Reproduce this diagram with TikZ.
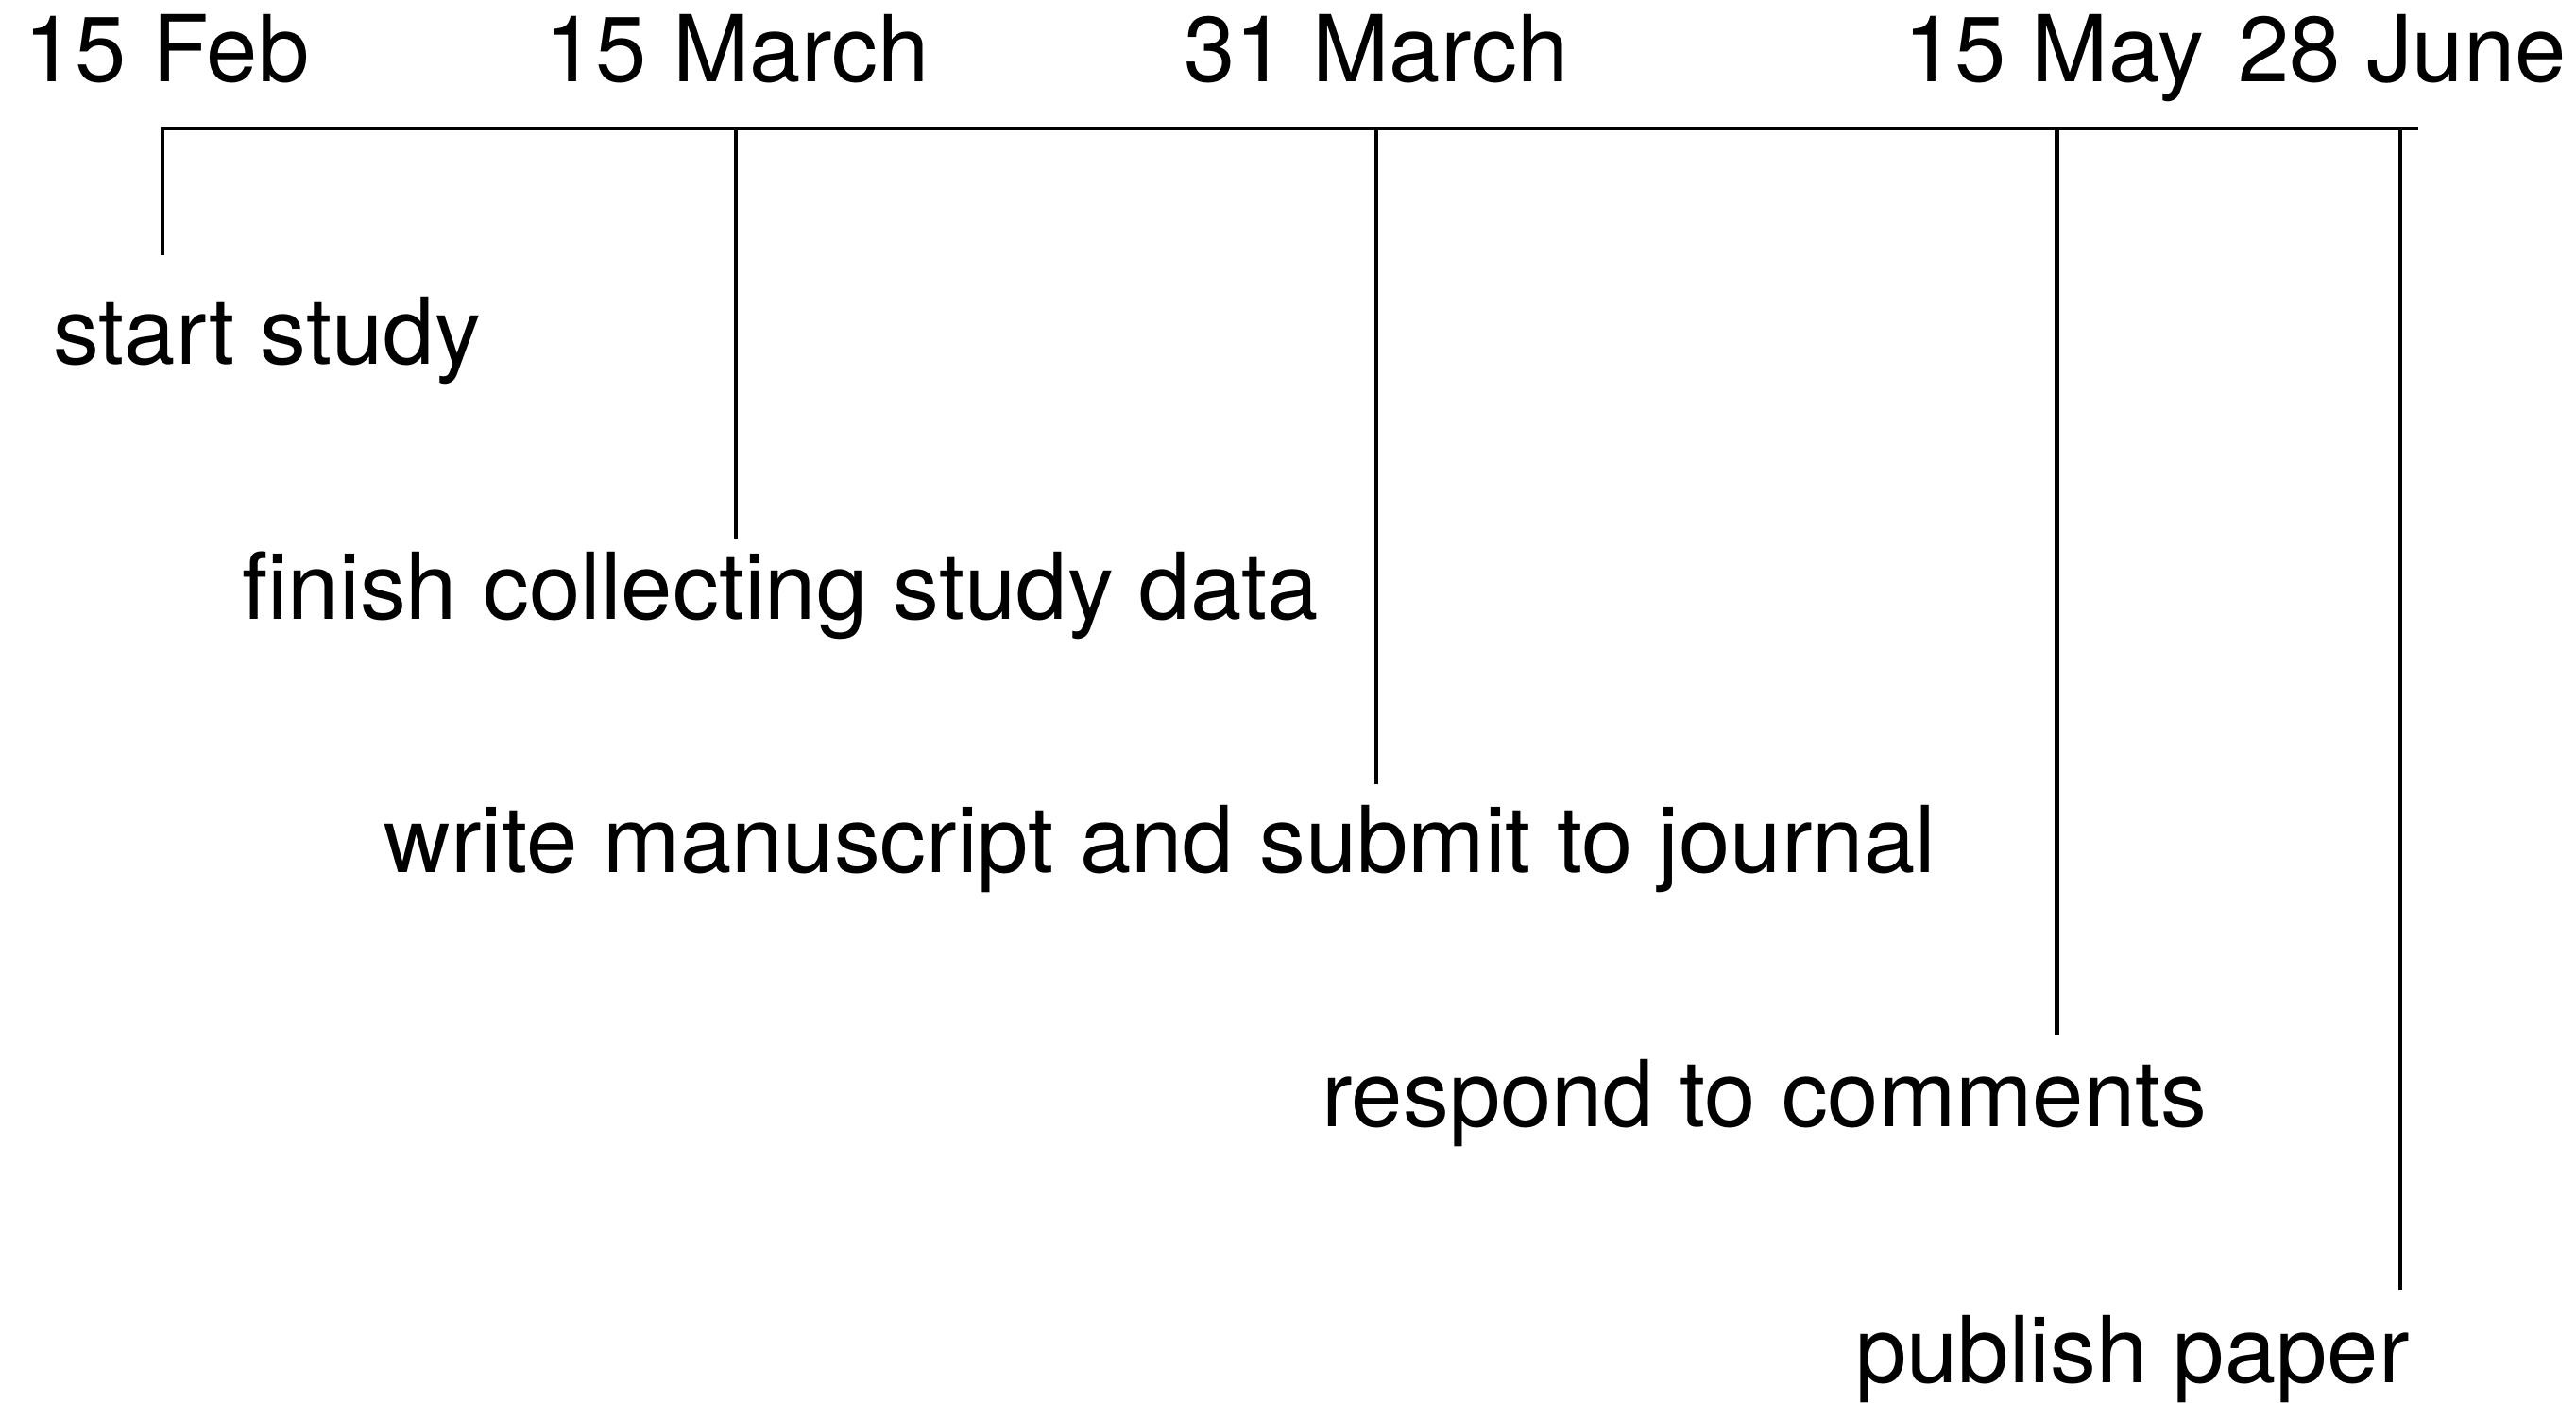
\documentclass[tikz,border=0pt]{standalone}
\usepackage{fontspec}
\setmainfont{TeX Gyre Heros}
\tikzset{
  datelabel/.style={anchor=base, inner sep=0pt, font=\fontsize{27.8}{30}\selectfont},
  tasklabel/.style={anchor=base, inner sep=0pt, font=\fontsize{27.8}{30}\selectfont},
  axisline/.style={line width=1.4pt},
  tickline/.style={line width=1.15pt}
}
\begin{document}
\begin{tikzpicture}
\useasboundingbox (0,0) rectangle (27.27,14.85);
% la ligne du temps
\coordinate (start) at (1.70,13.49);
\coordinate (end) at (25.60,13.49);
\draw[axisline] (start) -- (end);
% dates
\node[datelabel] (feb) at (1.765,13.98) {15 Feb};
\node[datelabel] (mar) at (7.80,13.98) {15 March};
\node[datelabel] (endmar) at (14.57,13.98) {31 March};
\node[datelabel] (may) at (21.74,13.98) {15 May};
\node[datelabel] (june) at (25.43,13.98) {28 June};
% traits
\coordinate (t1) at (1.722,13.49);
\coordinate (b1) at (1.722,12.15);
\coordinate (t2) at (7.792,13.49);
\coordinate (b2) at (7.792,9.145);
\coordinate (t3) at (14.574,13.49);
\coordinate (b3) at (14.574,6.554);
\coordinate (t4) at (21.775,13.49);
\coordinate (b4) at (21.775,3.893);
\coordinate (t5) at (25.41,13.49);
\coordinate (b5) at (25.41,1.197);
\draw[tickline] (t1) -- (b1);
\draw[tickline] (t2) -- (b2);
\draw[tickline] (t3) -- (b3);
\draw[tickline] (t4) -- (b4);
\draw[tickline] (t5) -- (b5);
% taches
\node[tasklabel] (study) at (2.826,10.99) {start study};
\node[tasklabel] (data) at (8.261,8.29) {finish collecting study data};
\node[tasklabel] (paper) at (12.279,5.615) {write manuscript and submit to journal};
\node[tasklabel] (reply) at (18.679,2.92) {respond to comments};
\node[tasklabel] (publish) at (22.575,0.21) {publish paper};
\end{tikzpicture}
\end{document}
